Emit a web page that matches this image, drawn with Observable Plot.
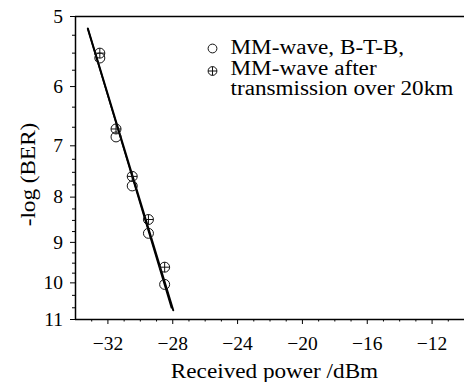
<!DOCTYPE html>
<html><head><meta charset="utf-8">
<script src="https://cdn.jsdelivr.net/npm/d3@7"></script>
<script src="https://cdn.jsdelivr.net/npm/@observablehq/plot@0.6"></script>
<style>
html,body{margin:0;padding:0;background:#fff;}
#chart{width:464px;height:382px;overflow:hidden;}
#chart svg text{font-family:"Liberation Serif","Times New Roman",serif !important;}
</style></head><body><div id="chart"></div>
<script>
// Data
const power = [-32.5, -31.5, -30.5, -29.5, -28.5];
const berBTB = [5.57, 6.84, 7.77, 8.79, 10.04];
const ber20km = [5.50, 6.70, 7.58, 8.48, 9.60];
const fitPowerBTB = [-33.24, -27.97];
const fitBTB = [5.16, 10.74];
const fitPower20km = [-33.24, -28.08];
const fit20km = [5.16, 10.67];
const xTicks = [-32, -28, -24, -20, -16, -12];
const xMinor = [-33, -31, -30, -29, -27, -26, -25, -23, -22, -21, -19, -18, -17, -15, -14, -13, -11];
const yTicks = [5, 6, 7, 8, 9, 10, 11];
const yMinor = [5.25, 5.5, 5.75, 6.33, 6.67, 7.25, 7.5, 7.75, 8.25, 8.5, 8.75, 9.25, 9.5, 9.75, 10.33, 10.67];
const legendLabels = ["MM-wave, B-T-B,", "MM-wave after", "transmission over 20km"];
const xLabel = "Received power /dBm";
const yLabel = "-log (BER)";

const btb = power.map((p, i) => ({p, v: berBTB[i]}));
const km20 = power.map((p, i) => ({p, v: ber20km[i]}));
const lineBTB = fitPowerBTB.map((p, i) => ({p, v: fitBTB[i]}));
const line20km = fitPower20km.map((p, i) => ({p, v: fit20km[i]}));

const circledPlus = {
  draw(ctx, size) {
    const r = Math.sqrt(size / Math.PI);
    ctx.moveTo(r, 0);
    ctx.arc(0, 0, r, 0, 2 * Math.PI);
    ctx.moveTo(-r, 0); ctx.lineTo(r, 0);
    ctx.moveTo(0, -r); ctx.lineTo(0, r);
  }
};

const serif = "Liberation Serif";
const ink = "#111";
const plot = Plot.plot({
  width: 464,
  height: 382,
  marginLeft: 75,
  marginRight: 0,
  marginTop: 16,
  marginBottom: 63,
  style: {fontFamily: serif, fontSize: "19.5px", background: "#fff", color: "#000"},
  x: {domain: [-34, -10]},
  y: {type: "log", domain: [5, 11], reverse: true},
  marks: [
    Plot.ruleY([5], {stroke: "#000", strokeWidth: 1.5}),
    Plot.ruleY([11], {stroke: "#000", strokeWidth: 1.5}),
    Plot.ruleX([-34], {stroke: "#000", strokeWidth: 1.5}),
    Plot.axisX(xTicks, {tickSize: 5, tickPadding: 12, label: null, tickFormat: d3.format("d"), fontFamily: serif, fontSize: 19.5}),
    Plot.axisX(xMinor, {tickSize: 2.5, label: null, tickFormat: () => ""}),
    Plot.axisY(yTicks, {tickSize: 5, tickPadding: 7.5, label: null, tickFormat: d3.format("d"), fontFamily: serif, fontSize: 19.5}),
    Plot.axisY(yMinor, {tickSize: 3, label: null, tickFormat: () => ""}),
    Plot.line(lineBTB, {x: "p", y: "v", stroke: "#000", strokeWidth: 2}),
    Plot.line(line20km, {x: "p", y: "v", stroke: "#000", strokeWidth: 1.6}),
    Plot.dot(btb, {x: "p", y: "v", r: 5, stroke: ink, strokeWidth: 1, fill: "none"}),
    Plot.dot(km20, {x: "p", y: "v", r: 5, symbol: circledPlus, stroke: ink, strokeWidth: 1, fill: "none"}),
    // legend
    Plot.dot([0], {frameAnchor: "top-left", dx: 137, dy: 32, r: 4.4, stroke: ink, strokeWidth: 1, fill: "none"}),
    Plot.dot([0], {frameAnchor: "top-left", dx: 137, dy: 54.5, r: 4.4, symbol: circledPlus, stroke: ink, strokeWidth: 1, fill: "none"}),
    Plot.text([legendLabels[0]], {frameAnchor: "top-left", dx: 155, dy: 37.3, text: d => d, textAnchor: "start", lineAnchor: "bottom", fontSize: 20, fontFamily: serif, fill: "#000"}),
    Plot.text([legendLabels[1]], {frameAnchor: "top-left", dx: 155, dy: 58, text: d => d, textAnchor: "start", lineAnchor: "bottom", fontSize: 20, fontFamily: serif, fill: "#000"}),
    Plot.text([legendLabels[2]], {frameAnchor: "top-left", dx: 155, dy: 78, text: d => d, textAnchor: "start", lineAnchor: "bottom", fontSize: 20, fontFamily: serif, fill: "#000"}),
    // axis titles
    Plot.text([xLabel], {frameAnchor: "bottom", dx: 4.5, dy: 58.3, text: d => d, textAnchor: "middle", lineAnchor: "bottom", fontSize: 20, fontFamily: serif, fill: "#000"}),
    Plot.text([yLabel], {frameAnchor: "left", dx: -47, dy: 6.5, rotate: -90, text: d => d, textAnchor: "middle", lineAnchor: "middle", fontSize: 20, fontFamily: serif, fill: "#000"})
  ]
});
document.getElementById("chart").append(plot);
// widen the serif lettering along its own direction, as in the reference
plot.querySelectorAll('g[aria-label="text"] text').forEach(t => {
  const tr = t.getAttribute("transform");
  if (tr) {
    t.setAttribute("transform", tr + " scale(1.16,1)");
  } else {
    const L = t.getComputedTextLength();
    if (L > 0) {
      t.setAttribute("textLength", (L * 1.16).toFixed(1));
      t.setAttribute("lengthAdjust", "spacingAndGlyphs");
    }
  }
});
</script>
</body></html>
